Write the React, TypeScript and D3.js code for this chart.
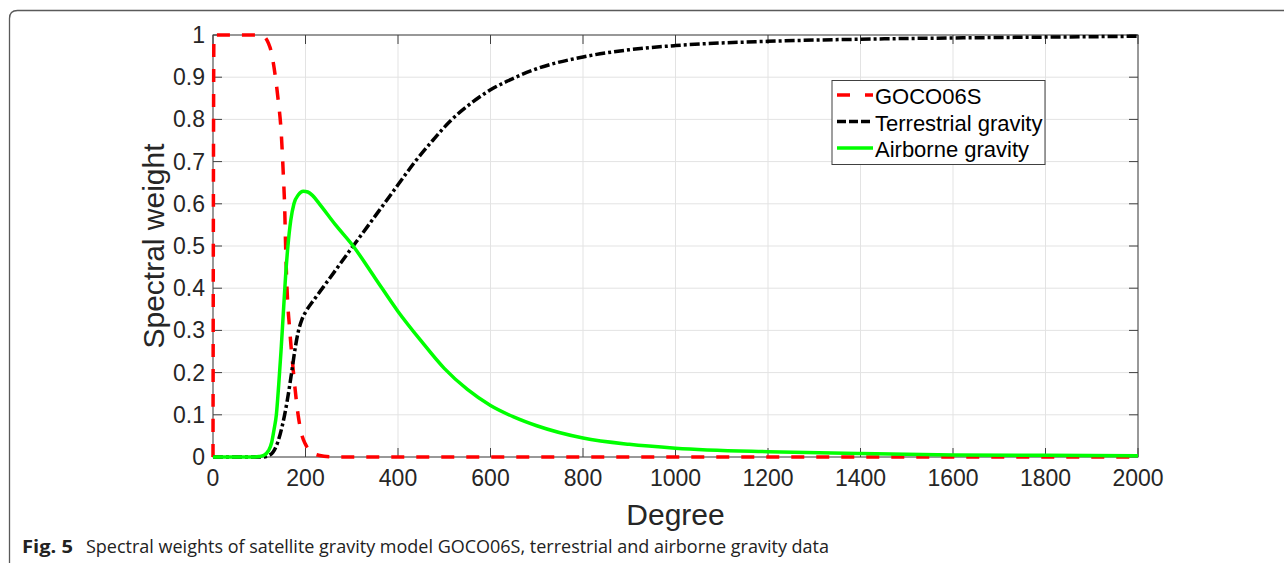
import { useMemo } from "react";
import * as d3 from "d3";

// values (degree -> spectral weight)
const gocoDeg = [0, 2, 100, 112, 120, 126, 132, 140.5, 147.7, 152, 155, 157, 160, 166, 174, 184, 191, 200, 216, 240, 270, 2000];
const gocoW = [0, 1, 1, 0.995, 0.98, 0.96, 0.923, 0.85, 0.765, 0.67, 0.59, 0.5, 0.4, 0.3, 0.2, 0.1, 0.057, 0.03, 0.009, 0.002, 0, 0];

const terrDeg = [0, 110, 120, 130, 140, 150, 160, 170, 178, 185, 192, 200, 220, 250, 303, 340, 370, 400, 437, 475, 512, 560, 600, 635, 700, 800, 900, 1000, 1200, 1400, 1600, 1800, 2000];
const terrW = [0, 0, 0.003, 0.012, 0.035, 0.075, 0.13, 0.2, 0.26, 0.3, 0.325, 0.343, 0.375, 0.42, 0.5, 0.555, 0.6, 0.645, 0.7, 0.75, 0.795, 0.84, 0.87, 0.89, 0.92, 0.948, 0.965, 0.975, 0.985, 0.99, 0.993, 0.995, 0.997];

const airDeg = [0, 90, 100, 110, 120, 127, 132, 137, 142, 147, 152, 157, 162, 168, 175, 185, 195, 205, 215, 230, 265, 303, 350, 400, 450, 500, 550, 600, 650, 700, 800, 900, 1000, 1200, 1400, 1600, 1800, 2000];
const airW = [0, 0, 0.001, 0.004, 0.015, 0.035, 0.065, 0.1, 0.17, 0.25, 0.34, 0.43, 0.5, 0.56, 0.6, 0.622, 0.63, 0.628, 0.62, 0.6, 0.55, 0.5, 0.425, 0.345, 0.275, 0.21, 0.16, 0.122, 0.095, 0.074, 0.045, 0.03, 0.021, 0.0125, 0.008, 0.005, 0.004, 0.003];

const xTicks = d3.range(0, 2001, 200);
const yTicks = d3.range(0, 11).map((i) => i / 10);
const legendLabels = ["GOCO06S", "Terrestrial gravity", "Airborne gravity"];

const W = 1284;
const H = 567;
const MARGIN = { top: 35, right: 146, bottom: 110, left: 213 };
const FONT = "'Liberation Sans', Arial, Helvetica, sans-serif";

export default function App() {
  const boundsWidth = W - MARGIN.left - MARGIN.right;
  const boundsHeight = H - MARGIN.top - MARGIN.bottom;

  const xScale = useMemo(() => d3.scaleLinear().domain([0, 2000]).range([0, boundsWidth]), [boundsWidth]);
  const yScale = useMemo(() => d3.scaleLinear().domain([0, 1]).range([boundsHeight, 0]), [boundsHeight]);

  const line = d3
    .line<[number, number]>()
    .x((d) => xScale(d[0]))
    .y((d) => yScale(d[1]))
    .curve(d3.curveMonotoneX);

  const series = [
    { deg: gocoDeg, w: gocoW, color: "#ff0000", width: 3.5, dash: "13,12" },
    { deg: terrDeg, w: terrW, color: "#000000", width: 3.5, dash: "10,3,3,3" },
    { deg: airDeg, w: airW, color: "#00ff00", width: 3.5, dash: "none" },
  ];

  const axisColor = "#404040";
  const tickLen = 9;

  return (
    <svg width={W} height={H} style={{ position: "absolute", left: 0, top: 0, background: "#fff" }} fontFamily={FONT}>
      <path d={`M9.5,563 L9.5,18.5 Q9.5,10.5 17.5,10.5 L${W},10.5`} fill="none" stroke="#5a5a5a" strokeWidth={1.3} />
      <g transform={`translate(${MARGIN.left},${MARGIN.top})`}>
        {/* grid */}
        {xTicks.map((t) => (
          <line key={"gx" + t} x1={xScale(t)} x2={xScale(t)} y1={0} y2={boundsHeight} stroke="#e3e3e3" />
        ))}
        {yTicks.map((t) => (
          <line key={"gy" + t} x1={0} x2={boundsWidth} y1={yScale(t)} y2={yScale(t)} stroke="#e3e3e3" />
        ))}
        {/* box + ticks */}
        <rect x={0} y={0} width={boundsWidth} height={boundsHeight} fill="none" stroke={axisColor} strokeWidth={1} />
        {xTicks.map((t) => (
          <g key={"tx" + t}>
            <line x1={xScale(t)} x2={xScale(t)} y1={boundsHeight} y2={boundsHeight - tickLen} stroke={axisColor} />
            <line x1={xScale(t)} x2={xScale(t)} y1={0} y2={tickLen} stroke={axisColor} />
            <text x={xScale(t)} y={boundsHeight + 29} textAnchor="middle" fontSize={23} fill="#262626">
              {t}
            </text>
          </g>
        ))}
        {yTicks.map((t) => (
          <g key={"ty" + t}>
            <line x1={0} x2={tickLen} y1={yScale(t)} y2={yScale(t)} stroke={axisColor} />
            <line x1={boundsWidth} x2={boundsWidth - tickLen} y1={yScale(t)} y2={yScale(t)} stroke={axisColor} />
            <text x={-8} y={yScale(t) + 8} textAnchor="end" fontSize={23} fill="#262626">
              {t === 0 || t === 1 ? String(t) : t.toFixed(1)}
            </text>
          </g>
        ))}
        {/* curves */}
        {series.map((s, i) => (
          <path
            key={i}
            d={line(s.deg.map((d, j) => [d, s.w[j]] as [number, number])) || ""}
            fill="none"
            stroke={s.color}
            strokeWidth={s.width}
            strokeDasharray={s.dash}
            strokeLinejoin="round"
          />
        ))}
        {/* legend */}
        <g transform={`translate(${832 - MARGIN.left},${80.5 - MARGIN.top})`}>
          <rect x={0} y={0} width={213} height={84} fill="#fff" stroke={axisColor} strokeWidth={1} />
          {series.map((s, i) => (
            <g key={"lg" + i} transform={`translate(0,${14.5 + i * 26.5})`}>
              {i === 0 ? (
                <>
                  <line x1={5} x2={18} y1={0} y2={0} stroke={s.color} strokeWidth={s.width} />
                  <line x1={33} x2={41} y1={0} y2={0} stroke={s.color} strokeWidth={s.width} />
                </>
              ) : i === 1 ? (
                <line x1={5} x2={41} y1={0} y2={0} stroke={s.color} strokeWidth={s.width} strokeDasharray="9,3" />
              ) : (
                <line x1={5} x2={41} y1={0} y2={0} stroke={s.color} strokeWidth={s.width} />
              )}
              <text x={43} y={9} fontSize={22} fill="#000">
                {legendLabels[i]}
              </text>
            </g>
          ))}
        </g>
      </g>
      <text transform={`translate(164,${MARGIN.top + boundsHeight / 2}) rotate(-90)`} textAnchor="middle" fontSize={30} fill="#262626">
        Spectral weight
      </text>
      <text x={MARGIN.left + boundsWidth / 2} y={525} textAnchor="middle" fontSize={30} fill="#262626">
        Degree
      </text>
      <text x={22} y={553} fontSize={18} fill="#222" fontFamily="'Open Sans', 'Noto Sans', sans-serif">
        <tspan fontWeight="bold" textLength={51} lengthAdjust="spacingAndGlyphs">Fig. 5</tspan>
        <tspan x={86} textLength={743} lengthAdjust="spacingAndGlyphs">
          Spectral weights of satellite gravity model GOCO06S, terrestrial and airborne gravity data
        </tspan>
      </text>
    </svg>
  );
}
